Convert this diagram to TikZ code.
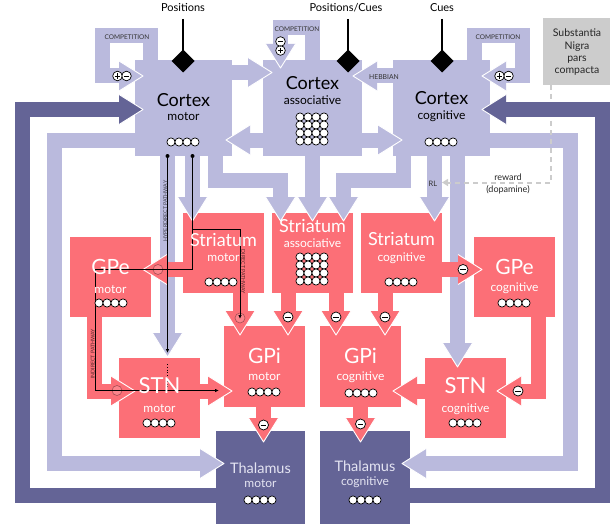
\documentclass[tikz,border=0pt]{standalone}
\usepackage{fontspec}
\setmainfont{Lato}
\usetikzlibrary{arrows.meta}
\definecolor{lav}{RGB}{186,186,221}
\definecolor{dpur}{RGB}{100,100,150}
\definecolor{sal}{RGB}{252,111,119}
\definecolor{sgray}{RGB}{204,204,204}
\definecolor{thtxt}{RGB}{228,228,242}
\newcommand\fsz[1]{\fontsize{#1}{#1}\selectfont}
\newcommand\ahR[3]{\fill[#1] (#2,#3) -- (#2-24,#3-15) -- (#2-24,#3+15) -- cycle; \draw[hw] (#2-24,#3-15) -- (#2,#3) -- (#2-24,#3+15);}
\newcommand\ahL[3]{\fill[#1] (#2,#3) -- (#2+24,#3-15) -- (#2+24,#3+15) -- cycle; \draw[hw] (#2+24,#3-15) -- (#2,#3) -- (#2+24,#3+15);}
\newcommand\ahD[3]{\fill[#1] (#2,#3) -- (#2-15,#3-24) -- (#2+15,#3-24) -- cycle; \draw[hw] (#2-15,#3-24) -- (#2,#3) -- (#2+15,#3-24);}
\newcommand\minsym[2]{\draw[fill=white,line width=0.7pt] (#1,#2) circle (5pt); \draw[line width=1pt] (#1-2.8,#2) -- (#1+2.8,#2);}
\newcommand\ghostc[2]{\draw[black,draw opacity=0.35,line width=0.6pt,fill=white,fill opacity=0.15] (#1,#2) circle (5pt);}
\newcommand\pmH[2]{\fill[white] (#1-4.5,#2) circle (4.8pt) (#1+4.5,#2) circle (4.8pt);
 \draw[line width=0.7pt] (#1-4.5,#2) circle (4.8pt) (#1+4.5,#2) circle (4.8pt);
 \draw[line width=0.9pt] (#1-7.3,#2) -- (#1-1.7,#2) (#1-4.5,#2-2.8) -- (#1-4.5,#2+2.8) (#1+1.9,#2) -- (#1+7.1,#2);}
\newcommand\pmV[2]{\fill[white] (#1,#2-4.5) circle (4.8pt) (#1,#2+4.5) circle (4.8pt);
 \draw[line width=0.7pt] (#1,#2-4.5) circle (4.8pt) (#1,#2+4.5) circle (4.8pt);
 \draw[line width=0.9pt] (#1-2.6,#2-4.5) -- (#1+2.6,#2-4.5) (#1-2.6,#2+4.5) -- (#1+2.6,#2+4.5) (#1,#2+1.9) -- (#1,#2+7.1);}
\newcommand\crow[2]{\foreach \i in {0,1,2,3}{\draw[cw] (#1-12+8*\i,#2) circle (4.1pt);}}
\newcommand\cgrid[2]{\foreach \i in {0,1,2,3}{\foreach \j in {0,1,2,3}{\draw[cw] (#1-12+8*\i,#2-12+8*\j) circle (4.1pt);}}}
\newcommand\diam[2]{\fill (#1,#2-11.5) -- (#1+11.5,#2) -- (#1,#2+11.5) -- (#1-11.5,#2) -- cycle;}
\begin{document}
\begin{tikzpicture}[x=1pt,y=-1pt,
  hw/.style={draw=white,line width=0.9pt,line join=round},
  band/.style={line width=15pt,line join=miter,line cap=butt},
  cw/.style={draw=black,fill=white,line width=0.7pt},
  pw/.style={draw=black,line width=0.8pt},
  bx/.style={draw=none,inner sep=0pt,outer sep=0pt,anchor=north west},
  lavbox/.style={bx,fill=lav},
  redbox/.style={bx,fill=sal},
  purbox/.style={bx,fill=dpur},
  capc/.style={inner sep=0pt,text height=0.72em,text depth=0pt},
  xc/.style={inner sep=0pt,text height=0.52em,text depth=0pt},
  big/.style={capc,font=\fsz{18}},
  sub/.style={xc,font=\fsz{12}},
  tiny/.style={capc,font=\fsz{6.5},text=black!80},
  ptxt/.style={capc,font=\fsz{5.2},text=black,text opacity=0.65}]
\useasboundingbox (0,0) rectangle (615,524);
% ---------- boxes
\node[lavbox,minimum width=97pt,minimum height=96pt] (cm) at (135,60) {};
\node[lavbox,minimum width=99pt,minimum height=96pt] (ca) at (263,60) {};
\node[lavbox,minimum width=97pt,minimum height=96pt] (cc) at (393,60) {};
\node[redbox,minimum width=81pt,minimum height=80pt] (sm) at (183,213) {};
\node[redbox,minimum width=81pt,minimum height=80pt] (sa) at (272,213) {};
\node[redbox,minimum width=81pt,minimum height=80pt] (sc) at (361,213) {};
\node[redbox,minimum width=81pt,minimum height=80pt] (gpem) at (70,237) {};
\node[redbox,minimum width=81pt,minimum height=80pt] (gpec) at (474,237) {};
\node[redbox,minimum width=81pt,minimum height=81pt] (gpim) at (224,326) {};
\node[redbox,minimum width=81pt,minimum height=81pt] (gpic) at (320,326) {};
\node[redbox,minimum width=81pt,minimum height=80pt] (stnm) at (119,358) {};
\node[redbox,minimum width=81pt,minimum height=80pt] (stnc) at (425,358) {};
\node[purbox,minimum width=89pt,minimum height=93pt] (tm) at (216,431) {};
\node[purbox,minimum width=90pt,minimum height=93pt] (tc) at (320,431) {};
\node[bx,fill=sgray,minimum width=67pt,minimum height=67pt] (snc) at (543,18) {};
% ---------- lavender connectors
\draw[band,lav] (140,140.5) -- (54.5,140.5) -- (54.5,463.5) -- (201,463.5); \ahR{lav}{224}{463.5}
\draw[band,lav] (485,140.5) -- (570.5,140.5) -- (570.5,463.5) -- (425,463.5); \ahL{lav}{402}{463.5}
\draw[band,lav] (167.5,150) -- (167.5,334); \ahD{lav}{167.5}{357}
\draw[band,lav] (192.5,150) -- (192.5,198); \ahD{lav}{192.5}{221}
\draw[band,lav] (215.5,150) -- (215.5,180) -- (280.5,180) -- (280.5,198); \ahD{lav}{280.5}{221}
\draw[band,lav] (312.5,150) -- (312.5,198); \ahD{lav}{312.5}{221}
\draw[band,lav] (403,150) -- (403,180) -- (343.5,180) -- (343.5,198); \ahD{lav}{343.5}{221}
\draw[band,lav] (434.5,150) -- (434.5,198); \ahD{lav}{434.5}{221}
\draw[band,lav] (457.5,150) -- (457.5,344); \ahD{lav}{457.5}{367}
\draw[band,lav] (228,72.5) -- (249,72.5); \ahR{lav}{272}{72.5}
\draw[band,lav] (267,140) -- (249,140); \ahL{lav}{226}{140}
\draw[band,lav] (397,76) -- (376,76); \ahL{lav}{353}{76}
\draw[band,lav] (358,140) -- (379,140); \ahR{lav}{402}{140}
\draw[band,lav] (150.5,64) -- (150.5,35.5) -- (102.5,35.5) -- (102.5,76) -- (120,76); \ahR{lav}{143}{76}
\draw[band,lav] (312.5,64) -- (312.5,27.5) -- (280.5,27.5) -- (280.5,45); \ahD{lav}{280.5}{68}
\draw[band,lav] (474.5,64) -- (474.5,35.5) -- (522.5,35.5) -- (522.5,76) -- (505,76); \ahL{lav}{482}{76}
% ---------- dopamine
\coordinate (rlend) at (442,182.5);
\draw[sgray,line width=2pt,dash pattern=on 5pt off 4pt,-{Triangle[length=6pt,width=7pt]}] (snc.south -| 551,0) -- (551,182.5) -- (rlend);
% ---------- dark connectors
\draw[band,dpur] (220,495.5) -- (22.5,495.5) -- (22.5,109.5) -- (120,109.5); \ahR{dpur}{143}{109.5}
\draw[band,dpur] (405,495.5) -- (602.5,495.5) -- (602.5,109.5) -- (505,109.5); \ahL{dpur}{482}{109.5}
% ---------- red connectors
\draw[band,sal] (186,269.5) -- (166,269.5); \ahL{sal}{143}{269.5}
\draw[band,sal] (240,290) -- (240,312); \ahD{sal}{240}{335}
\draw[band,sal] (288,290) -- (288,312); \ahD{sal}{288}{335}
\draw[band,sal] (336,290) -- (336,312); \ahD{sal}{336}{335}
\draw[band,sal] (385,290) -- (385,312); \ahD{sal}{385}{335}
\draw[band,sal] (439,269.5) -- (459,269.5); \ahR{sal}{482}{269.5}
\draw[band,sal] (94.5,314) -- (94.5,391) -- (112,391); \ahR{sal}{135}{391}
\draw[band,sal] (538,314) -- (538,391) -- (520,391); \ahL{sal}{497}{391}
\draw[band,sal] (197,391) -- (209,391); \ahR{sal}{232}{391}
\draw[band,sal] (428,391) -- (416,391); \ahL{sal}{393}{391}
\draw[band,sal] (263.5,404) -- (263.5,419); \ahD{sal}{263.5}{442}
\draw[band,sal] (360.5,404) -- (360.5,419); \ahD{sal}{360.5}{442}
% ---------- symbols
\minsym{263.5}{425} \minsym{288}{317} \minsym{336}{317} \minsym{385}{317}
\minsym{360.5}{424} \minsym{463}{269.5} \minsym{518}{391}
\ghostc{240}{318} \ghostc{158}{269.5} \ghostc{117}{390.5}
\pmH{122}{76} \pmV{280.5}{46} \pmH{504}{76}
% ---------- inputs
\node[capc,font=\fsz{11}] (pos) at (183,8) {Positions};
\node[capc,font=\fsz{11}] (poscue) at (346,8) {Positions/Cues};
\node[capc,font=\fsz{11}] (cue) at (442,8) {Cues};
\draw[line width=2pt] (183,19) -- (183,52); \diam{183}{61}
\draw[line width=2pt] (348,19) -- (348,52); \diam{348}{61}
\draw[line width=2pt] (442,19) -- (442,52); \diam{442}{61}
% ---------- pathways
\fill (167.5,156) circle (2pt); \fill (192.5,156) circle (2pt);
\draw[pw,-{Latex[length=4pt,width=3.5pt]}] (167.5,156) -- (167.5,353);
\draw[pw,dotted] (167.5,364) -- (167.5,388);
\draw[pw,-{Latex[length=4pt,width=3.5pt]}] (192.5,156) -- (192.5,229.5) -- (240,229.5) -- (240,319);
\draw[pw,-{Latex[length=4pt,width=3.5pt]}] (192.5,229.5) -- (192.5,269.5) -- (95,269.5) -- (95,390.5) -- (219,390.5);
\node[ptxt,rotate=90] (hyp) at (163.5,211) {HYPERDIRECT PATHWAY};
\node[ptxt,rotate=-90] (dir) at (245,272) {DIRECT PATHWAY};
\node[ptxt,rotate=90] (ind) at (91,354) {INDIRECT PATHWAY};
% ---------- small labels
\node[tiny] (comp1) at (127,35.5) {COMPETITION};
\node[tiny] (comp2) at (297,27.5) {COMPETITION};
\node[tiny] (comp3) at (498,35.5) {COMPETITION};
\node[tiny,font=\fsz{6.8}] (hebb) at (384,76) {HEBBIAN};
\node[tiny,font=\fsz{7.5}] (rl) at (433,182.5) {RL};
\node[capc,font=\fsz{9},text=black!85] (rew) at (508,177) {reward};
\node[capc,font=\fsz{9},text=black!85] (dop) at (508,189) {(dopamine)};
\node[capc,font=\fsz{10.5},text=black!85] (sn1) at (577,33) {Substantia};
\node[capc,font=\fsz{10.5},text=black!85] (sn2) at (577,46) {Nigra};
\node[xc,font=\fsz{10.5},text=black!85] (sn3) at (577,59) {pars};
\node[xc,font=\fsz{10.5},text=black!85] (sn4) at (577,71) {compacta};
% ---------- cortex
\node[big] (cmt) at (183.5,103) {Cortex}; \node[sub] (cms) at (183.5,118) {motor}; \crow{183}{142}
\node[big] (cat) at (312.5,86) {Cortex}; \node[sub] (cas) at (312.5,102) {associative}; \cgrid{312}{129}
\node[big] (cct) at (441.5,100.5) {Cortex}; \node[sub] (ccs) at (441.5,117) {cognitive}; \crow{441}{142}
% ---------- striatum
\node[big,text=white] (smt) at (223.5,243) {Striatum}; \node[sub,text=white] (sms) at (223.5,259) {motor}; \crow{221}{282}
\node[big,text=white] (sat) at (312.5,228.5) {Striatum}; \node[sub,text=white] (sas) at (312.5,245) {associative}; \cgrid{312}{269}
\node[big,text=white] (sct) at (401.5,241.5) {Striatum}; \node[sub,text=white] (scs) at (401.5,259) {cognitive}; \crow{401}{282}
% ---------- GPe / GPi / STN
\node[capc,font=\fsz{21},text=white] (gpemt) at (110.5,270.5) {GPe}; \node[sub,text=white] (gpems) at (110.5,291) {motor}; \crow{111}{303}
\node[capc,font=\fsz{21},text=white] (gpect) at (514.5,271) {GPe}; \node[sub,text=white] (gpecs) at (514.5,288.5) {cognitive}; \crow{514}{303}
\node[capc,font=\fsz{21},text=white] (gpimt) at (264.5,359.5) {GPi}; \node[sub,text=white] (gpims) at (264.5,378) {motor}; \crow{264}{392}
\node[capc,font=\fsz{21},text=white] (gpict) at (360.5,359.5) {GPi}; \node[sub,text=white] (gpics) at (360.5,377.5) {cognitive}; \crow{361}{393}
\node[capc,font=\fsz{22},text=white] (stnmt) at (159.5,390) {STN}; \node[sub,text=white] (stnms) at (159.5,409.5) {motor}; \crow{159}{423}
\node[capc,font=\fsz{22},text=white] (stnct) at (465.5,390) {STN}; \node[sub,text=white] (stncs) at (465.5,409.5) {cognitive}; \crow{465}{423}
% ---------- thalamus
\node[capc,font=\fsz{14.5},text=thtxt] (tmt) at (260.5,469.5) {Thalamus}; \node[sub,text=thtxt] (tms) at (260.5,484.5) {motor}; \crow{260}{500}
\node[capc,font=\fsz{14.5},text=thtxt] (tct) at (365,468) {Thalamus}; \node[sub,text=thtxt] (tcs) at (365,483) {cognitive}; \crow{365}{500}
\end{tikzpicture}
\end{document}
